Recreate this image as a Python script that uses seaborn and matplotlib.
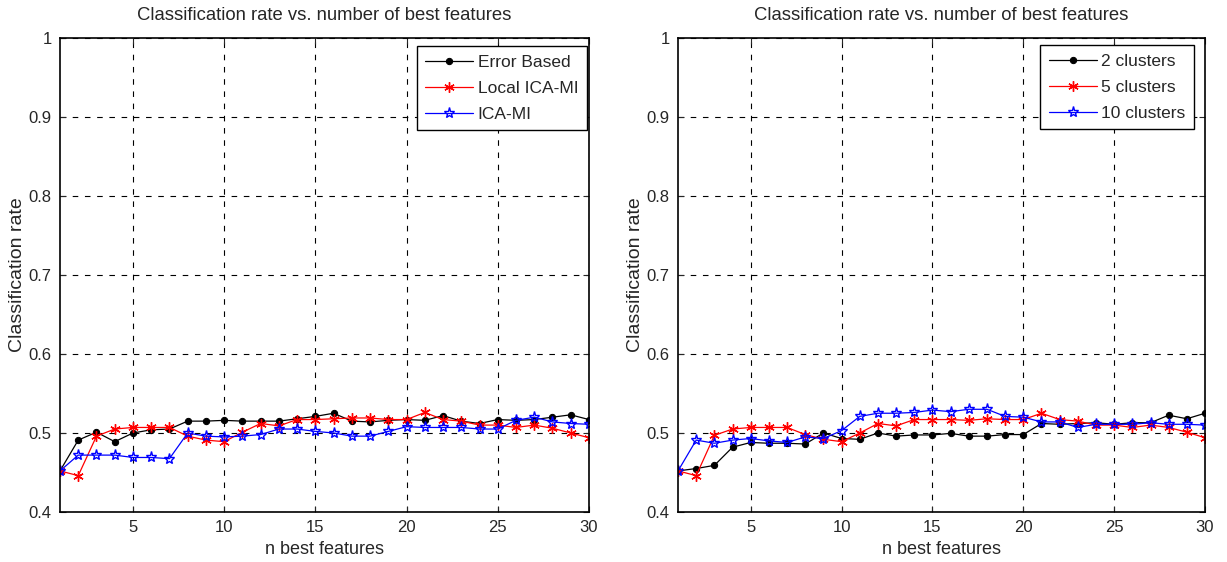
import numpy as np
import pandas as pd
import matplotlib
matplotlib.use("Agg")
import matplotlib.pyplot as plt
import seaborn as sns

sns.set_style("white")
plt.rcParams['font.family'] = ['Liberation Sans', 'DejaVu Sans']

n_features = list(range(1, 31))

error_based = [0.452, 0.491, 0.501, 0.489, 0.500, 0.504, 0.505, 0.515, 0.515, 0.516,
               0.515, 0.515, 0.515, 0.518, 0.521, 0.525, 0.515, 0.514, 0.516, 0.517,
               0.516, 0.522, 0.515, 0.512, 0.517, 0.516, 0.517, 0.520, 0.523, 0.517]
local_ica_mi = [0.452, 0.446, 0.496, 0.505, 0.507, 0.507, 0.507, 0.496, 0.491, 0.489,
                0.501, 0.512, 0.509, 0.517, 0.517, 0.518, 0.519, 0.519, 0.517, 0.517,
                0.526, 0.517, 0.515, 0.510, 0.510, 0.507, 0.510, 0.506, 0.500, 0.494]
ica_mi = [0.452, 0.472, 0.472, 0.472, 0.469, 0.469, 0.4675, 0.500, 0.496, 0.495,
          0.496, 0.498, 0.505, 0.505, 0.502, 0.500, 0.496, 0.496, 0.502, 0.508,
          0.507, 0.507, 0.507, 0.505, 0.505, 0.516, 0.520, 0.514, 0.512, 0.511]

clusters_2 = [0.452, 0.455, 0.459, 0.482, 0.488, 0.487, 0.487, 0.486, 0.500, 0.493,
              0.492, 0.500, 0.496, 0.4975, 0.4975, 0.4995, 0.496, 0.496, 0.498, 0.498,
              0.512, 0.511, 0.512, 0.513, 0.511, 0.513, 0.513, 0.5225, 0.518, 0.525]
clusters_5 = [0.452, 0.446, 0.497, 0.505, 0.507, 0.507, 0.507, 0.498, 0.492, 0.489,
              0.500, 0.512, 0.509, 0.517, 0.517, 0.517, 0.516, 0.518, 0.517, 0.517,
              0.525, 0.517, 0.515, 0.510, 0.510, 0.507, 0.510, 0.507, 0.501, 0.494]
clusters_10 = [0.452, 0.491, 0.487, 0.491, 0.493, 0.490, 0.488, 0.495, 0.493, 0.503,
               0.521, 0.525, 0.525, 0.526, 0.529, 0.527, 0.530, 0.530, 0.521, 0.520,
               0.514, 0.514, 0.507, 0.511, 0.511, 0.511, 0.513, 0.511, 0.511, 0.510]

left_labels = ["Error Based", "Local ICA-MI", "ICA-MI"]
right_labels = ["2 clusters", "5 clusters", "10 clusters"]
x_ticks = [5, 10, 15, 20, 25, 30]
y_ticks = [0.4, 0.5, 0.6, 0.7, 0.8, 0.9, 1.0]
y_ticklabels = ["0.4", "0.5", "0.6", "0.7", "0.8", "0.9", "1"]
title = "Classification rate vs. number of best features"

styles = [
    dict(color="black", marker="o", markersize=4.5, markerfacecolor="black", markeredgecolor="black"),
    dict(color="red", marker=(6, 2, 0), markersize=7.5, markeredgewidth=1.0, markeredgecolor="red"),
    dict(color="blue", marker="*", markersize=8, markerfacecolor="none", markeredgecolor="blue", markeredgewidth=1.0),
]

fig = plt.figure(figsize=(12.27, 5.62), dpi=100)
ax1 = fig.add_axes([0.0489, 0.089, 0.4311, 0.8434])
ax2 = fig.add_axes([0.5526, 0.089, 0.4295, 0.8434])

for ax, series, labels, anchor in [(ax1, [error_based, local_ica_mi, ica_mi], left_labels, (0.996, 0.983)),
                                   (ax2, [clusters_2, clusters_5, clusters_10], right_labels, (0.979, 0.985))]:
    for vals, lab, st in zip(series, labels, styles):
        sns.lineplot(x=n_features, y=vals, ax=ax, label=lab, linewidth=0.9, **st)
    ax.set_xlim(1, 30)
    ax.set_ylim(0.4, 1.0)
    ax.set_xticks(x_ticks)
    ax.set_yticks(y_ticks)
    ax.set_yticklabels(y_ticklabels)
    ax.grid(True, color="black", linestyle=(0, (5, 6)), linewidth=0.8)
    ax.tick_params(direction="in", length=4, labelsize=12, top=True, right=True,
                   bottom=True, left=True, pad=6)
    for sp in ax.spines.values():
        sp.set_color("black")
        sp.set_linewidth(1.2)
    ax.set_xlabel("n best features", fontsize=13, labelpad=4)
    ax.set_ylabel("Classification rate", fontsize=14, labelpad=2)
    ax.set_title(title, fontsize=13.3, pad=13)
    leg = ax.legend(loc="upper right", bbox_to_anchor=anchor, borderaxespad=0,
                    fontsize=12.5, frameon=True, fancybox=False,
                    edgecolor="black", framealpha=1, borderpad=0.5, handlelength=2.75,
                    handletextpad=0.25, labelspacing=0.62)
    leg.get_frame().set_linewidth(1.0)

fig.savefig("out.png", dpi=100)
